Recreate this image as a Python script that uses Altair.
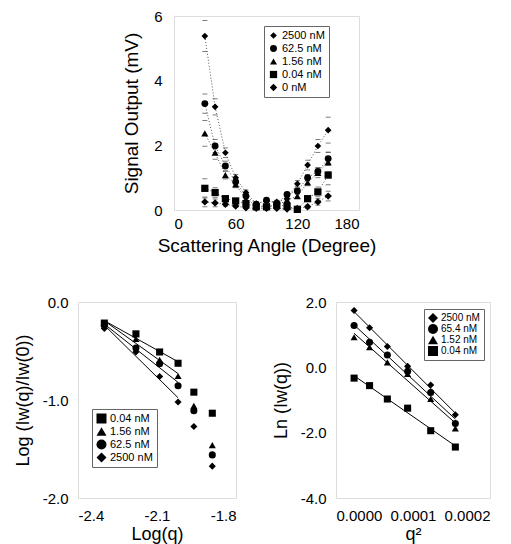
import altair as alt
import pandas as pd

FONT = "Liberation Sans"

# ---------------- top chart data ----------------
angles = [30, 40, 50, 60, 70, 80, 90, 100, 110, 120, 130, 140, 150]
top_conc = ["2500 nM", "62.5 nM", "1.56 nM", "0.04 nM", "0 nM"]
sig_2500 = [5.38, 3.19, 1.77, 1.00, 0.54, 0.20, 0.28, 0.25, 0.35, 0.81, 1.39, 1.98, 2.47]
sig_625 = [3.29, 1.98, 1.36, 0.87, 0.43, 0.18, 0.30, 0.20, 0.48, 0.59, 1.00, 1.19, 1.59]
sig_156 = [2.37, 1.77, 1.08, 0.79, 0.33, 0.15, 0.10, 0.15, 0.30, 0.43, 0.85, 1.15, 1.48]
sig_004 = [0.67, 0.54, 0.35, 0.28, 0.20, 0.10, 0.10, 0.15, 0.12, 0.02, 0.35, 0.56, 1.08]
sig_0 = [0.25, 0.22, 0.18, 0.12, 0.07, 0.05, 0.05, 0.05, 0.03, 0.05, 0.10, 0.25, 0.43]
err_2500 = [0.48, 0.25, 0.15, 0.10, 0.08, 0.05, 0.05, 0.05, 0.05, 0.10, 0.15, 0.20, 0.40]
err_625 = [0.30, 0.20, 0.15, 0.10, 0.06, 0.04, 0.04, 0.04, 0.05, 0.08, 0.10, 0.12, 0.20]
err_156 = [0.40, 0.20, 0.12, 0.10, 0.06, 0.04, 0.03, 0.04, 0.05, 0.06, 0.10, 0.15, 0.30]
err_004 = [0.30, 0.15, 0.08, 0.05, 0.04, 0.03, 0.03, 0.03, 0.03, 0.04, 0.08, 0.15, 0.30]
err_0 = [0.15, 0.12, 0.06, 0.04, 0.03, 0.02, 0.02, 0.02, 0.02, 0.03, 0.05, 0.10, 0.15]
top_shapes = ["diamond", "circle", "triangle-up", "square", "diamond"]
top_sizes = [45, 55, 45, 45, 18]

# ---------------- bottom-left data ----------------
logq = [-2.30, -2.18, -2.09, -2.02, -1.96, -1.89]
bl_conc = ["0.04 nM", "1.56 nM", "62.5 nM", "2500 nM"]
bl_004 = [-0.215, -0.325, -0.51, -0.625, -0.92, -1.135]
bl_156 = [-0.22, -0.376, -0.59, -0.755, -1.06, -1.46]
bl_625 = [-0.24, -0.47, -0.63, -0.855, -1.11, -1.56]
bl_2500 = [-0.27, -0.51, -0.76, -1.02, -1.27, -1.675]
bl_shapes = ["square", "triangle-up", "circle", "diamond"]
bl_fit_points = 4

# ---------------- bottom-right data ----------------
q2 = [2.35e-5, 4.36e-5, 6.67e-5, 9.3e-5, 1.23e-4, 1.55e-4]
br_conc = ["2500 nM", "65.4 nM", "1.52 nM", "0.04 nM"]
br_2500 = [1.74, 1.21, 0.64, 0.03, -0.54, -1.45]
br_654 = [1.28, 0.77, 0.38, -0.12, -0.77, -1.72]
br_152 = [0.92, 0.62, 0.15, -0.20, -0.97, -1.87]
br_004 = [-0.33, -0.56, -0.97, -1.25, -1.94, -2.44]
br_shapes = ["diamond", "circle", "triangle-up", "square"]

# ---------------- tables ----------------
rows = []
for c, vals, errs in zip(top_conc, [sig_2500, sig_625, sig_156, sig_004, sig_0],
                         [err_2500, err_625, err_156, err_004, err_0]):
    for a, v, e in zip(angles, vals, errs):
        rows.append({"angle": a, "v": v, "e": e, "conc": c})
top_df = pd.DataFrame(rows)

rows = []
for c, vals in zip(bl_conc, [bl_004, bl_156, bl_625, bl_2500]):
    for i, (x, y) in enumerate(zip(logq, vals)):
        rows.append({"x": x, "y": y, "conc": c, "idx": i})
bl_df = pd.DataFrame(rows)

rows = []
for c, vals in zip(br_conc, [br_2500, br_654, br_152, br_004]):
    for i, (x, y) in enumerate(zip(q2, vals)):
        rows.append({"x": x, "y": y, "conc": c, "idx": i})
br_df = pd.DataFrame(rows)

MINUS = "replace(datum.label, '\u2212', '-')"


def ax(values, fmt, title, label_pad=10, title_pad=10, title_fs=18):
    return alt.Axis(values=values, format=fmt, title=title, ticks=False, domain=False,
                    grid=False, labelPadding=label_pad, titlePadding=title_pad,
                    labelExpr=MINUS, labelFontSize=15, titleFontSize=title_fs,
                    titleFontWeight="normal", labelColor="black", titleColor="black",
                    labelFont=FONT, titleFont=FONT)


def legend(x, y, fs=11):
    return alt.Legend(title=None, orient="none", legendX=x, legendY=y,
                      strokeColor="#666", fillColor="white", padding=4,
                      labelFontSize=fs, labelFont=FONT, labelColor="black",
                      rowPadding=1, symbolStrokeWidth=0, labelOffset=3)


# ---------------- top chart ----------------
tx = alt.X("angle:Q", scale=alt.Scale(domain=[0, 180]),
           axis=ax([0, 60, 120, 180], "d", "Scattering Angle (Degree)", 6, 5, 19))
ty = alt.Y("v:Q", scale=alt.Scale(domain=[0, 6]),
           axis=ax([0, 2, 4, 6], "d", "Signal Output (mV)", 12, 12, 19))
base = alt.Chart(top_df)
t_lines = base.mark_line(strokeDash=[1, 2], color="#555", strokeWidth=1).encode(
    x=tx, y=ty, detail="conc:N")
t_hi = base.transform_calculate(hi="datum.v + datum.e").mark_tick(
    orient="horizontal", size=5, thickness=1, color="#444").encode(
    x="angle:Q", y="hi:Q")
t_lo = base.transform_calculate(lo="max(datum.v - datum.e, 0)").mark_tick(
    orient="horizontal", size=5, thickness=1, color="#444").encode(
    x="angle:Q", y="lo:Q")
t_pts = base.mark_point(filled=True, color="black", opacity=1).encode(
    x="angle:Q", y="v:Q",
    shape=alt.Shape("conc:N", scale=alt.Scale(domain=top_conc, range=top_shapes),
                    legend=legend(90, 10)),
    size=alt.Size("conc:N", scale=alt.Scale(domain=top_conc, range=top_sizes),
                  legend=legend(90, 10)))
top = alt.layer(t_lines, t_hi, t_lo, t_pts).properties(width=185, height=194)

spacer = alt.Chart(pd.DataFrame({"a": [0]})).mark_point(opacity=0).encode(
    x=alt.X("a:Q", axis=None), y=alt.Y("a:Q", axis=None)).properties(
    width=43, height=194, view=alt.ViewBackground(stroke="transparent"))

# ---------------- bottom-left ----------------
bx = alt.X("x:Q", scale=alt.Scale(domain=[-2.4, -1.8]),
           axis=ax([-2.4, -2.1, -1.8], ".1f", "Log(q)", 10, 2))
by = alt.Y("y:Q", scale=alt.Scale(domain=[-2, 0]),
           axis=ax([-2, -1, 0], ".1f", "Log (Iw(q)/Iw(0))"))
bl_base = alt.Chart(bl_df)
bl_fit = bl_base.transform_filter(alt.datum.idx < bl_fit_points).transform_regression(
    "x", "y", groupby=["conc"]).mark_line(color="black", strokeWidth=1).encode(
    x=bx, y=by, detail="conc:N")
bl_pts = bl_base.mark_point(filled=True, color="black", opacity=1, size=50).encode(
    x="x:Q", y="y:Q",
    shape=alt.Shape("conc:N", scale=alt.Scale(domain=bl_conc, range=bl_shapes),
                    legend=legend(14, 107)))
bl = alt.layer(bl_fit, bl_pts).properties(width=158, height=196)

# ---------------- bottom-right ----------------
rx = alt.X("x:Q", scale=alt.Scale(domain=[0, 0.0002]),
           axis=ax([0, 0.0001, 0.0002], ".4f", "q\u00b2", 10, 2))
ry = alt.Y("y:Q", scale=alt.Scale(domain=[-4, 2]),
           axis=ax([-4, -2, 0, 2], ".1f", "Ln (Iw(q))"))
br_base = alt.Chart(br_df)
br_fit = br_base.transform_regression("x", "y", groupby=["conc"]).mark_line(
    color="black", strokeWidth=1).encode(x=rx, y=ry, detail="conc:N")
br_pts = br_base.mark_point(filled=True, color="black", opacity=1, size=50).encode(
    x="x:Q", y="y:Q",
    shape=alt.Shape("conc:N", scale=alt.Scale(domain=br_conc, range=br_shapes),
                    legend=legend(88, 7, 10)))
br = alt.layer(br_fit, br_pts).properties(width=154, height=196)

row1 = alt.hconcat(spacer, top, spacing=0).resolve_scale(
    shape="independent", size="independent").resolve_legend(
    shape="independent", size="independent")
row2 = alt.hconcat(bl, br, spacing=34).resolve_scale(shape="independent").resolve_legend(
    shape="independent")
chart = alt.vconcat(row1, row2, spacing=38).resolve_scale(
    shape="independent", size="independent").resolve_legend(
    shape="independent", size="independent").properties(
    padding={"left": 5, "top": 0, "right": 0, "bottom": 0}).configure_view(
    stroke="#333", strokeWidth=2).configure(background="white")

chart.save("out.html", embed_options={"renderer": "svg", "actions": False})
